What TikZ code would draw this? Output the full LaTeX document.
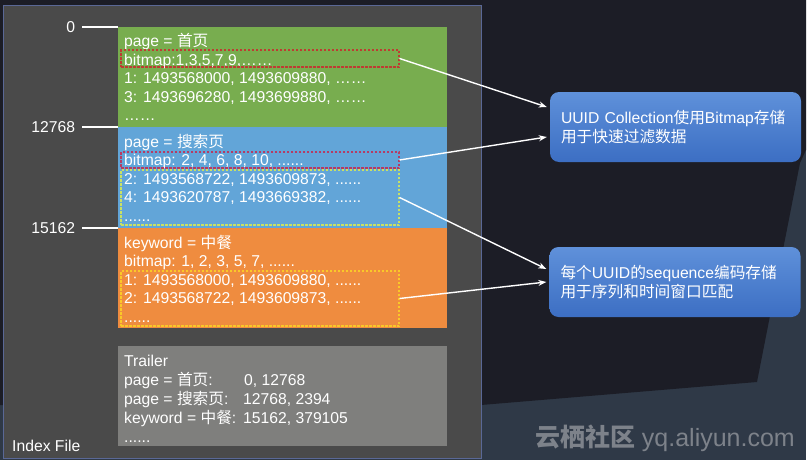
\documentclass[tikz,border=0pt]{standalone}
\usepackage{fontspec}
\setmainfont{Liberation Sans}
\newfontfamily\cjk{Noto Sans CJK SC}
\usetikzlibrary{arrows.meta}
\definecolor{bgdark}{RGB}{28,29,38}
\definecolor{bgslate}{RGB}{47,57,71}
\definecolor{panelgray}{RGB}{74,74,74}
\definecolor{panelrim}{RGB}{90,104,150}
\definecolor{leafgreen}{RGB}{120,173,79}
\definecolor{skyblue}{RGB}{98,165,216}
\definecolor{tangerine}{RGB}{239,140,63}
\definecolor{trailgray}{RGB}{127,127,125}
\definecolor{dashred}{RGB}{190,60,50}
\definecolor{dashpink}{RGB}{180,60,100}
\definecolor{dashlime}{RGB}{200,225,100}
\definecolor{dashgold}{RGB}{250,200,40}
\definecolor{calltop}{RGB}{95,145,218}
\definecolor{callbot}{RGB}{60,110,195}
\definecolor{markgray}{RGB}{125,130,138}
\newcommand{\zh}[1]{{\cjk #1}}
\newcommand{\dotrun}{......}
\tikzset{
  block/.style={anchor=north west,minimum width=329pt,inner sep=0pt,draw=none},
  txt/.style={anchor=base west,inner sep=0pt,text=white,font=\fontsize{15.7}{18}\selectfont},
  dashbox/.style={draw,dash pattern=on 2.5pt off 1.5pt,line width=1.1pt,minimum width=278pt,inner sep=0pt},
  tick/.style={draw=white,line width=2pt},
  callout/.style={rounded corners=9pt,top color=calltop,bottom color=callbot,text=white,
    text width=229pt,inner xsep=11pt,minimum height=70pt,align=left,font=\fontsize{15.7}{18.5}\selectfont},
  link/.style={draw=white,line width=1.4pt,-{Stealth[length=8pt,width=6pt]}}
}

\begin{document}
\begin{tikzpicture}[x=1pt,y=-1pt]
  \useasboundingbox (0,0) rectangle (807,463);
  % backdrop and the file panel
  \fill[white] (0,0) rectangle (807,463);
  \fill[bgslate] (0,0) rectangle (806,460);
  \fill[bgdark] (0,0) -- (806,0) -- (806,150) -- (800,163) -- (757,382) -- (481,405) -- (0,405) -- cycle;
  \filldraw[fill=panelgray,draw=panelrim] (3,5) rectangle (481,458);
  \node[txt] (idx) at (12,451) {Index File};

  % four sections of the index file
  \node[block,fill=leafgreen,minimum height=100pt] (green) at (118,27) {};
  \node[block,fill=skyblue,minimum height=101pt] (blue) at (118,127) {};
  \node[block,fill=tangerine,minimum height=100pt] (orange) at (118,228) {};
  \node[block,fill=trailgray,minimum height=100pt] (trailer) at (118,346) {};

  % offsets
  \draw[tick] (green.north west) -- ++(-36,0) node[left=6pt,inner sep=0pt,text=white,font=\fontsize{15.7}{18}\selectfont] (t0) {0};
  \draw[tick] (blue.north west) -- ++(-36,0) node[left=6pt,inner sep=0pt,text=white,font=\fontsize{15.7}{18}\selectfont] (t1) {12768};
  \draw[tick] (orange.north west) -- ++(-36,0) node[left=6pt,inner sep=0pt,text=white,font=\fontsize{15.7}{18}\selectfont] (t2) {15162};

  \foreach \ln [count=\i from 0] in {{page = \zh{首页}},{bitmap:1,3,5,7,9,……},{1: 1493568000, 1493609880, ……},{3: 1493696280, 1493699880, ……},{……}}
    \node[txt] (g\i) at (124,46.5+18.6*\i) {\ln};
  \foreach \ln [count=\i from 0] in {{page = \zh{搜索页}},{bitmap: 2, 4, 6, 8, 10, \dotrun},{2: 1493568722, 1493609873, \dotrun},{4: 1493620787, 1493669382, \dotrun},{\dotrun}}
    \node[txt] (b\i) at (124,147+18.6*\i) {\ln};
  \foreach \ln [count=\i from 0] in {{keyword = \zh{中餐}},{bitmap: 1, 2, 3, 5, 7, \dotrun},{1: 1493568000, 1493609880, \dotrun},{2: 1493568722, 1493609873, \dotrun},{\dotrun}}
    \node[txt] (o\i) at (124,248+18.6*\i) {\ln};
  \foreach \ln [count=\i from 0] in {Trailer,{page = \zh{首页}:},{page = \zh{搜索页}:},{keyword = \zh{中餐}:},{\dotrun}}
    \node[txt] (r\i) at (124,366+19*\i) {\ln};
  \node[txt] (v1) at (244,385) {0, 12768};
  \node[txt] (v2) at (243,404) {12768, 2394};
  \node[txt] (v3) at (243,423) {15162, 379105};

  % dashed marks
  \node[dashbox,draw=dashred,minimum height=17pt] (gbits) at (260,58.5) {};
  \node[dashbox,draw=dashpink,minimum height=16pt] (bbits) at (260,160) {};
  \node[dashbox,draw=dashlime,minimum height=55pt] (bseq) at (260,197.5) {};
  \node[dashbox,draw=dashgold,minimum height=55pt] (oseq) at (260,298.5) {};

  % notes
  \node[callout] (uuid) at (675.5,127) {UUID Collection\zh{使用}Bitmap\zh{存储}\\\zh{用于快速过滤数据}};
  \node[callout] (seq) at (675,282) {\zh{每个}UUID\zh{的}sequence\zh{编码存储}\\\zh{用于序列和时间窗口匹配}};

  \draw[link] (gbits.east) -- ([xshift=-3pt,yshift=20pt]uuid.west);
  \draw[link] (bbits.east) -- ([xshift=-3pt,yshift=-10pt]uuid.west);
  \draw[link] (bseq.east) -- ([xshift=-3pt,yshift=13pt]seq.west);
  \draw[link] (oseq.east) -- ([xshift=-3pt]seq.west);

  \node[anchor=base east,inner sep=0pt,text=markgray,font=\fontsize{25}{28}\selectfont] (mark) at (795,446) {\zh{\bfseries 云栖社区} yq.aliyun.com};
\end{tikzpicture}
\end{document}
